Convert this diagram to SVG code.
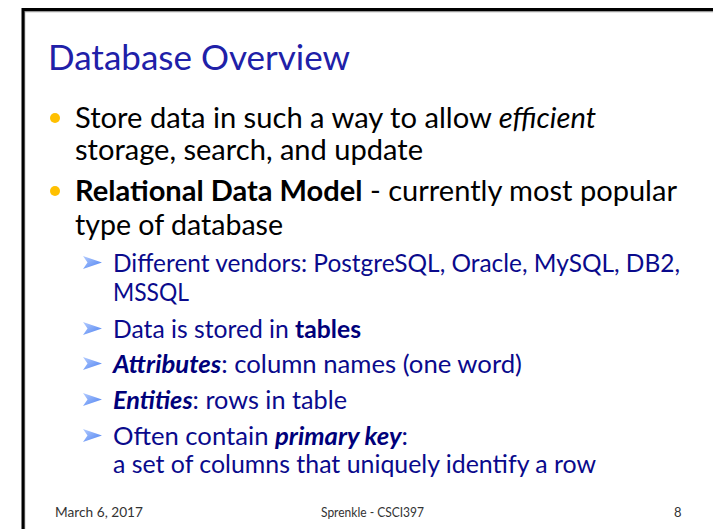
<svg xmlns="http://www.w3.org/2000/svg" width="713" height="529" viewBox="0 0 713 529">
<style>
.t{font-family:Lato,"Open Sans","Liberation Sans",sans-serif;}
.title{font-size:35px;fill:#2020A8;}
.main{font-size:28.5px;fill:#000;}
.sub{font-size:24.5px;fill:#0A0A8C;}
.foot{font-size:13px;fill:#333;}
.b{font-weight:bold;}
.i{font-style:italic;}
.sb{font-weight:bold;fill:#00007A;}
</style>
<defs>
<linearGradient id="ag" x1="0" y1="0" x2="1" y2="1">
<stop offset="0" stop-color="#B4CCFF"/>
<stop offset="1" stop-color="#4A7FF0"/>
</linearGradient>
<path id="arr" d="M0,0 L19,6.5 L0,13 L4.5,6.5 Z" fill="url(#ag)"/>
</defs>
<rect x="0" y="0" width="713" height="529" fill="#fff"/>
<path d="M24.5,530 V11.5 H715" fill="none" stroke="#999" stroke-width="1.5"/>
<path d="M23,530 V9.5 H715" fill="none" stroke="#000" stroke-width="3"/>
<g id="title"><text class="t title" x="48" y="70" textLength="302" lengthAdjust="spacingAndGlyphs">Database Overview</text></g>
<g id="bullet1">
<circle cx="55" cy="118" r="5" fill="#FFC000"/>
<text class="t main" x="75" y="128" textLength="521" lengthAdjust="spacingAndGlyphs">Store data in such a way to allow <tspan class="i">efficient</tspan></text>
<text class="t main" x="75" y="160" textLength="348" lengthAdjust="spacingAndGlyphs">storage, search, and update</text>
</g>
<g id="bullet2">
<circle cx="55" cy="191" r="5" fill="#FFC000"/>
<text class="t main" x="75" y="201" textLength="602" lengthAdjust="spacingAndGlyphs"><tspan class="b">Relational Data Model</tspan> - currently most popular</text>
<text class="t main" x="75" y="235" textLength="208" lengthAdjust="spacingAndGlyphs">type of database</text>
</g>
<g id="sub1"><use href="#arr" x="83" y="256"/>
<text class="t sub" x="113" y="272" textLength="567" lengthAdjust="spacingAndGlyphs">Different vendors: PostgreSQL, Oracle, MySQL, DB2,</text>
<text class="t sub" x="113" y="301" textLength="76" lengthAdjust="spacingAndGlyphs">MSSQL</text></g>
<g id="sub2"><use href="#arr" x="83" y="322"/>
<text class="t sub" x="113" y="338" textLength="248" lengthAdjust="spacingAndGlyphs">Data is stored in <tspan class="sb">tables</tspan></text></g>
<g id="sub3"><use href="#arr" x="83" y="357"/>
<text class="t sub" x="113" y="373" textLength="409" lengthAdjust="spacingAndGlyphs"><tspan class="sb i">Attributes</tspan>: column names (one word)</text></g>
<g id="sub4"><use href="#arr" x="83" y="393"/>
<text class="t sub" x="113" y="409" textLength="234" lengthAdjust="spacingAndGlyphs"><tspan class="sb i">Entities</tspan>: rows in table</text></g>
<g id="sub5"><use href="#arr" x="83" y="429"/>
<text class="t sub" x="113" y="445" textLength="295" lengthAdjust="spacingAndGlyphs">Often contain <tspan class="sb i">primary key</tspan>:</text>
<text class="t sub" x="113" y="473" textLength="483" lengthAdjust="spacingAndGlyphs">a set of columns that uniquely identify a row</text></g>
<g id="footer">
<text class="t foot" x="55" y="517" textLength="88" lengthAdjust="spacingAndGlyphs">March 6, 2017</text>
<text class="t foot" x="321" y="517" textLength="103" lengthAdjust="spacingAndGlyphs">Sprenkle - CSCI397</text>
<text class="t foot" x="674" y="517">8</text>
</g>
</svg>
